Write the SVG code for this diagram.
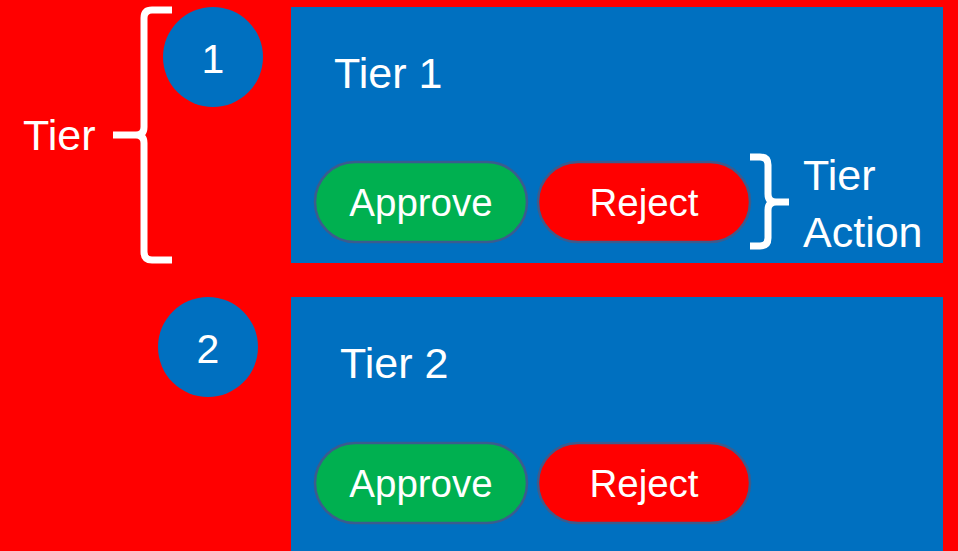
<svg xmlns="http://www.w3.org/2000/svg" width="958" height="551" viewBox="0 0 958 551">
  <style>
    .panel { fill: #0070C0; }
    .badge { fill: #0070C0; }
    .pill { stroke: #3B5C8E; stroke-width: 2.5; }
    .approve { fill: #00B050; }
    .reject { fill: #FF0000; }
    .brace { fill: none; stroke: #FFFFFF; stroke-width: 7; stroke-linecap: butt; stroke-linejoin: round; }
    text { font-family: "Liberation Sans", Arial, sans-serif; fill: #FFFFFF; }
    .title { font-size: 43px; }
    .btn { font-size: 38.5px; text-anchor: middle; }
    .num { font-size: 41px; text-anchor: middle; }
    .label { font-size: 43px; }
  </style>

  <!-- background -->
  <rect x="0" y="0" width="958" height="551" fill="#FF0000"/>

  <!-- tier 1 -->
  <g id="tier1">
    <rect class="panel" x="291" y="7" width="652" height="256"/>
    <text class="title" x="334" y="88">Tier 1</text>
  </g>
  <g id="badge1">
    <circle class="badge" cx="213" cy="57" r="50"/>
    <text class="num" x="213" y="73">1</text>
  </g>
  <g id="approve1">
    <rect class="pill approve" x="315" y="162" width="212" height="80" rx="40"/>
    <text class="btn" x="421" y="216">Approve</text>
  </g>
  <g id="reject1">
    <rect class="pill reject" x="538" y="162" width="212" height="80" rx="40"/>
    <text class="btn" x="644" y="216">Reject</text>
  </g>

  <!-- tier 2 -->
  <g id="tier2">
    <rect class="panel" x="291" y="297" width="652" height="254"/>
    <text class="title" x="340" y="378">Tier 2</text>
  </g>
  <g id="badge2">
    <circle class="badge" cx="208" cy="347" r="50"/>
    <text class="num" x="208" y="363">2</text>
  </g>
  <g id="approve2">
    <rect class="pill approve" x="315" y="443" width="212" height="80" rx="40"/>
    <text class="btn" x="421" y="497">Approve</text>
  </g>
  <g id="reject2">
    <rect class="pill reject" x="538" y="443" width="212" height="80" rx="40"/>
    <text class="btn" x="644" y="497">Reject</text>
  </g>

  <!-- annotation braces -->
  <g id="connectors">
    <path class="brace" d="M172,10 H152 Q144,10 144,18 V127 Q144,135 136,135 H113 M136,135 Q144,135 144,143 V252 Q144,260 152,260 H172"/>
    <path class="brace" stroke-width="6" d="M750,157 H760 Q768,157 768,165 V194 Q768,202 776,202 H789 M776,202 Q768,202 768,210 V238 Q768,246 760,246 H750"/>
  </g>

  <!-- annotation labels -->
  <g id="tier-label">
    <text class="label" x="23" y="150">Tier</text>
  </g>
  <g id="tier-action-label">
    <text class="label" x="803" y="190">Tier</text>
    <text class="label" x="803" y="247">Action</text>
  </g>
</svg>
